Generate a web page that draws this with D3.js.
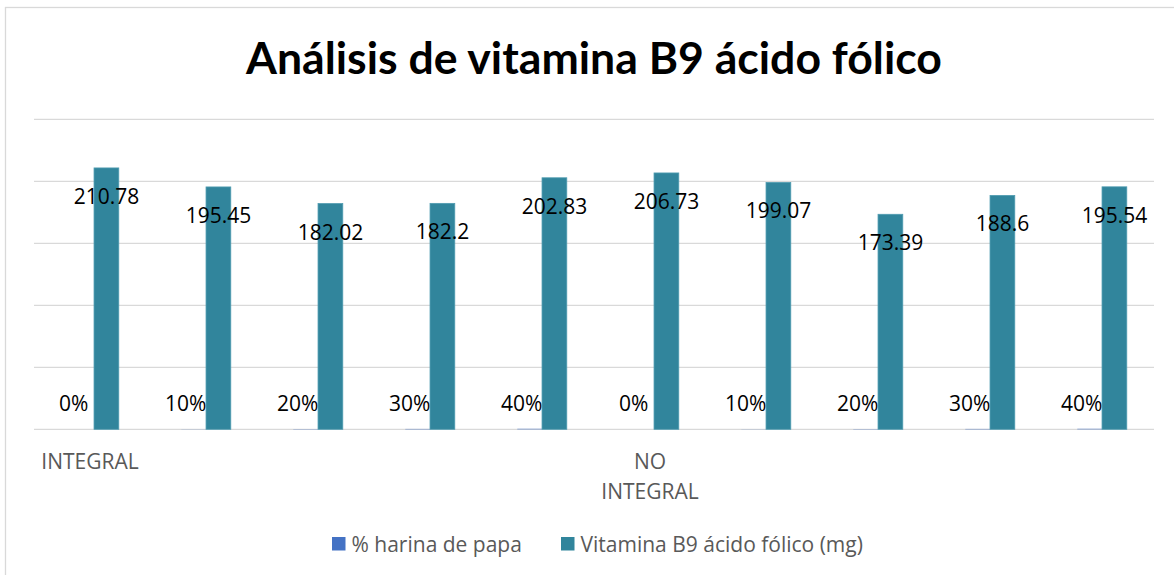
<!DOCTYPE html>
<html>
<head>
<meta charset="utf-8">
<script src="https://cdn.jsdelivr.net/npm/d3@7"></script>
<style>
  body { margin: 0; background: #fff; }
  svg { display: block; font-family: "Open Sans", sans-serif; }
</style>
</head>
<body>
<svg id="chart" width="1174" height="575"></svg>
<script>
// data
const tipo = ["INTEGRAL", "INTEGRAL", "INTEGRAL", "INTEGRAL", "INTEGRAL",
              "NO INTEGRAL", "NO INTEGRAL", "NO INTEGRAL", "NO INTEGRAL", "NO INTEGRAL"];
const harina = [0, 0.1, 0.2, 0.3, 0.4, 0, 0.1, 0.2, 0.3, 0.4];
const vitamina = [210.78, 195.45, 182.02, 182.2, 202.83, 206.73, 199.07, 173.39, 188.6, 195.54];
const series = ["% harina de papa", "Vitamina B9 ácido fólico (mg)"];
const yTicks = [0, 50, 100, 150, 200, 250];

const colors = ["#4472c4", "#31859c"];

const svg = d3.select("#chart");
const plotL = 34, plotR = 1154, plotB = 429.3, plotT = 119.3;

// chart frame
svg.append("rect")
    .attr("x", 5.5).attr("y", 7.5)
    .attr("width", 1180).attr("height", 580)
    .attr("fill", "#fff")
    .attr("stroke", "#d9d9d9").attr("stroke-width", 1.3);

let title = svg.append("text")
    .attr("x", 594).attr("y", 74)
    .attr("text-anchor", "middle")
    .style("font-family", "Lato, sans-serif")
    .style("font-size", "43px").style("font-weight", "bold")
    .attr("fill", "#000")
    .text("Análisis de vitamina B9 ácido fólico");
// squeeze the title to the width it has in the original
let tw = title.node().getComputedTextLength();
title.style("font-size", (43 * 696 / tw) + "px");

const idx = d3.range(vitamina.length);
let x = d3.scaleBand().domain(idx).range([plotL, plotR]).padding(0);
let xs = d3.scaleBand().domain([0, 1])
    .range([x.bandwidth() * 0.315, x.bandwidth() * 0.757]).padding(0);
let y = d3.scaleLinear().domain([0, 250]).range([plotB, plotT]);

// gridlines
svg.append("g")
    .selectAll("line")
    .data(yTicks)
    .join("line")
    .attr("x1", plotL).attr("x2", plotR)
    .attr("y1", d => y(d)).attr("y2", d => y(d))
    .attr("stroke", "#d9d9d9").attr("stroke-width", 1.3);

// % series bars (tiny)
svg.append("g")
    .selectAll("rect")
    .data(harina)
    .join("rect")
    .attr("x", (d, i) => x(i) + xs(0))
    .attr("width", xs.bandwidth())
    .attr("y", d => y(d))
    .attr("height", d => plotB - y(d))
    .attr("fill", colors[0]);

// vitamin bars
svg.append("g")
    .selectAll("rect")
    .data(vitamina)
    .join("rect")
    .attr("x", (d, i) => x(i) + xs(1))
    .attr("width", xs.bandwidth())
    .attr("y", d => y(d))
    .attr("height", d => plotB - y(d))
    .attr("fill", colors[1])
    .attr("stroke", "#4f9bb0").attr("stroke-width", 0.8);

// data labels
svg.append("g")
    .selectAll("text")
    .data(harina)
    .join("text")
    .attr("x", (d, i) => x(i) + xs(0) + xs.bandwidth() / 2 - 8)
    .attr("y", d => y(d) - 18)
    .attr("text-anchor", "middle")
    .style("font-size", "21px")
    .attr("fill", "#000")
    .text(d => d3.format(".0%")(d));

svg.append("g")
    .selectAll("text")
    .data(vitamina)
    .join("text")
    .attr("x", (d, i) => x(i) + xs(1) + xs.bandwidth() / 2)
    .attr("y", d => y(d) + 36)
    .attr("text-anchor", "middle")
    .style("font-size", "21px")
    .attr("fill", "#000")
    .text(d => d);

// category axis: group name only on the first bar of each group
const xAxis = d3.axisBottom(x)
    .tickSize(0)
    .tickFormat(i => (i === 0 || tipo[i] !== tipo[i - 1]) ? tipo[i] : "");

const gx = svg.append("g")
    .attr("transform", `translate(0,${plotB})`)
    .call(xAxis);
gx.select(".domain").remove();
gx.selectAll("text")
    .attr("y", 40).attr("dy", null)
    .style("font-size", "21px")
    .style("font-family", "'Open Sans', sans-serif")
    .attr("fill", "#595959")
    .each(function () {
        const t = d3.select(this);
        const words = t.text().split(" ");
        if (this.getComputedTextLength() <= x.bandwidth()) return;
        t.text(null);
        words.forEach((w, k) => {
            t.append("tspan").attr("x", 0).attr("dy", k === 0 ? 0 : 29.3).text(w);
        });
    });

// legend
const legX = [332, 561];
const leg = svg.append("g").selectAll("g")
    .data(series)
    .join("g")
    .attr("transform", (d, i) => `translate(${legX[i]},537)`);
leg.append("rect")
    .attr("width", 13.5).attr("height", 13.5)
    .attr("fill", (d, i) => colors[i]);
leg.append("text")
    .attr("x", 19.5).attr("y", 14.5)
    .style("font-size", "21px")
    .attr("fill", "#595959")
    .text(d => d);
</script>
</body>
</html>
